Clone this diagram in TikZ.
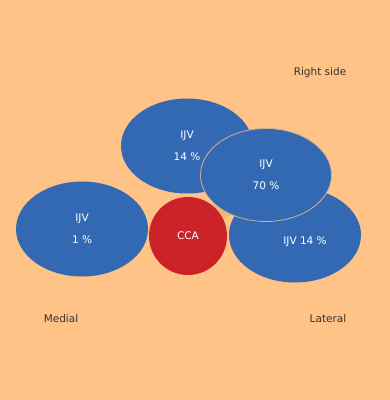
\documentclass[tikz,border=0pt]{standalone}
\usepackage{fontspec}
\setmainfont{DejaVu Sans}
\usepackage{tikz}
\usetikzlibrary{shapes.geometric,positioning,calc}
\definecolor{peachbg}{RGB}{255,194,135}
\definecolor{veinblue}{RGB}{51,105,179}
\definecolor{arteryred}{RGB}{204,34,41}
\definecolor{rimtan}{RGB}{200,180,150}
\definecolor{gapfill}{RGB}{240,184,105}

\begin{document}
\begin{tikzpicture}[x=1pt, y=-1pt,
  every node/.style={font=\fontsize{10.5}{12}\selectfont},
  vein/.style={ellipse, fill=veinblue, minimum width=132pt,
               minimum height=95pt, inner sep=0pt, text=white, align=center},
  artery/.style={circle, fill=arteryred, minimum size=78pt,
                 inner sep=0pt, text=white},
  side/.style={text=black!80},
]

%% -- background ----------------------------------------------------
\fill[peachbg] (0,0) rectangle (390,400);
\useasboundingbox (0,0) rectangle (390,400);
\fill[gapfill] (212,203) -- (230,198) -- (234,214) -- (224,218) -- cycle;

%% -- vessels -------------------------------------------------------
\node[vein]   (ijvmed) at (82,229)  {IJV\\[10pt]1 \%};
\node[artery] (cca)    at (188,236) {CCA};
\node[vein]   (ijvlat) at (295,235) {};
\node[vein]   (ijvtop) at (187,146) {IJV\\[10pt]14 \%};
\node[vein, draw=rimtan, line width=0.8pt, minimum width=131pt,
      minimum height=93pt] (ijvmax) at (266,175) {IJV\\[10pt]70 \%};
\node[text=white] (ijvlattxt) at ($(ijvlat.center)+(10,7)$) {IJV 14 \%};

%% -- orientation labels --------------------------------------------
\node[side] (right)   at (320,73)  {Right side};
\node[side] (medial)  at (61,319)  {Medial};
\node[side] (lateral) at (328,319) {Lateral};

\end{tikzpicture}
\end{document}
